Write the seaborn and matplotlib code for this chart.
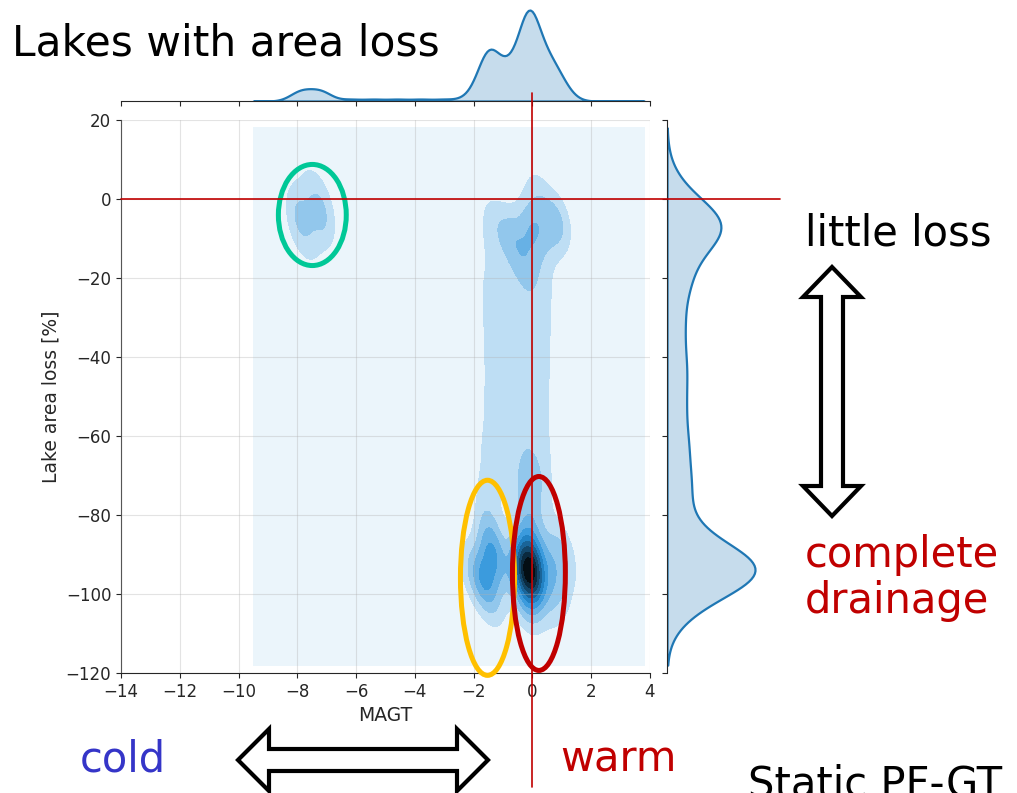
import colorsys
import numpy as np
import matplotlib
matplotlib.use("Agg")
import matplotlib.pyplot as plt
from matplotlib.patches import Ellipse, Polygon
from matplotlib.lines import Line2D
from matplotlib.transforms import blended_transform_factory
import seaborn as sns
from seaborn._statistics import KDE

# ---------------- data: representative lakes (MAGT [deg C], area loss [%], number of lakes)
magt = [
    # warm, complete drainage
    -0.12, -0.10, -0.15, -0.60, 0.40, 0.90, 0.85, 0.65, -0.05, 0.00, 1.25,
    # slightly colder, complete drainage
    -1.65, -1.35, -2.15, -1.25, -1.50,
    # warm, little loss
    0.00, -0.70, 0.70, 0.15, -0.20, -1.35, 1.00,
    # cold, little loss
    -7.95, -7.15, -7.95, -7.15, -7.55, -7.55,
    # sparse intermediate lakes
    -6.20, -5.40, -4.60, -3.80, -3.00,
    # warm, partial loss
    -1.50, -0.80, -0.15, 0.50,
    -1.55, -0.85, -0.20, 0.45,
    -1.50, -0.80, -0.15, 0.45,
    -1.45, -0.80, -0.20, 0.40,
    -1.50, -0.85, -0.25, 0.40,
    -1.60, -0.90, -0.25, 0.40,
    -1.65, -0.95, -0.30, 0.40,
]
area_loss = [
    -94.0, -85.0, -103.0, -96.0, -92.0, -88.0, -98.0, -105.0, -76.0, -68.0, -93.0,
    -97.0, -90.0, -93.0, -104.0, -82.0,
    -7.0, -9.0, -6.0, 2.0, -17.0, -5.0, -6.0,
    -2.0, -2.0, -6.5, -6.5, 4.5, -13.0,
    -45.0, -80.0, -20.0, -60.0, -100.0,
    -12.0, -12.0, -12.0, -12.0,
    -22.0, -22.0, -22.0, -22.0,
    -32.0, -32.0, -32.0, -32.0,
    -42.0, -42.0, -42.0, -42.0,
    -52.0, -52.0, -52.0, -52.0,
    -62.0, -62.0, -62.0, -62.0,
    -72.0, -72.0, -72.0, -72.0,
]
lake_count = [
    34, 8, 7, 5, 5, 6, 6, 3, 5, 3, 2.5,
    12.5, 12.5, 4, 3, 5,
    8, 6, 6.5, 4, 4, 4, 3.5,
    4.3, 4.3, 4.3, 4.3, 2.8, 2.5,
    2, 2, 2, 2, 2,
    2.4, 2.4, 2.4, 2.4,
    3.0, 3.0, 3.0, 3.0,
    3.0, 3.0, 3.0, 3.0,
    3.0, 3.0, 3.0, 3.0,
    3.0, 3.0, 3.0, 3.0,
    3.0, 3.0, 3.0, 3.0,
    3.0, 3.0, 3.0, 3.0,
]
x_ticks = [-14, -12, -10, -8, -6, -4, -2, 0, 2, 4]
y_ticks = [-120, -100, -80, -60, -40, -20, 0, 20]

# ---------------- settings
BW = 0.155
GRID_CLIP = ((-9.5, 3.8), (-118, 18))
W, H = 1017, 793
C0 = "#1f77b4"
RED = "#C00000"

sns.set_style("ticks")
plt.rcParams["font.family"] = ["DejaVu Sans"]

x = np.asarray(magt, float)
y = np.asarray(area_loss, float)
w = np.asarray(lake_count, float)

# colormap: white -> C0 hue -> black (lightness ramp)
h0, l0, s0 = colorsys.rgb_to_hls(*matplotlib.colors.to_rgb(C0))
ramp = [colorsys.hls_to_rgb(h0, l, s0) for l in np.linspace(1, 0, 12)]
cmap = sns.blend_palette(ramp, as_cmap=True)

# linearly spaced density levels, expressed as iso-proportions for seaborn
est = KDE(bw_method=BW, gridsize=200, cut=20, clip=GRID_CLIP)
dens, _ = est(x, y, weights=w)
lin = np.linspace(0, dens.max(), 11)[1:-1]
props = [float(dens[dens < L].sum() / dens.sum()) for L in lin]
levels = [0.0] + props + [1.0]

g = sns.JointGrid(height=7)
fig = g.figure
fig.set_size_inches(W / 100, H / 100)
fig.set_dpi(100)
ax, axx, axy = g.ax_joint, g.ax_marg_x, g.ax_marg_y


def rect(l, t, r, b):
    return [l / W, 1 - b / H, (r - l) / W, (b - t) / H]


ax.set_position(rect(121, 120, 650, 673))
axx.set_position(rect(121, 5, 650, 101))
axy.set_position(rect(667, 120, 775, 673))

sns.kdeplot(x=x, y=y, weights=w, ax=ax, fill=True, levels=levels, cmap=cmap,
            bw_method=BW, gridsize=200, cut=20, clip=GRID_CLIP)
sns.kdeplot(x=x, weights=w, ax=axx, fill=True, bw_method=BW, cut=20,
            clip=GRID_CLIP[0], color=C0, linewidth=1.6, alpha=0.25)
sns.kdeplot(y=y, weights=w, ax=axy, fill=True, bw_method=BW, cut=20,
            clip=GRID_CLIP[1], color=C0, linewidth=1.6, alpha=0.25)

ax.set_xlim(-14, 4)
ax.set_ylim(-120, 20)
ax.set_xticks(x_ticks)
ax.set_yticks(y_ticks)
ax.tick_params(labelsize=12)
ax.set_xlabel("MAGT", fontsize=13.5)
ax.set_ylabel("Lake area loss [%]", fontsize=13.5)
ax.grid(True, color="#b0b0b0", linewidth=0.8, alpha=0.35)
ax.set_axisbelow(False)

peak_x = max(p.vertices[:, 1].max() for p in axx.collections[0].get_paths())
axx.set_ylim(0, peak_x * 96 / 91)
peak_y = max(p.vertices[:, 0].max() for p in axy.collections[0].get_paths())
axy.set_xlim(0, peak_y * 108 / 88)
axx.set_xlabel("")
axx.set_ylabel("")
axy.set_xlabel("")
axy.set_ylabel("")

# ellipses marking clusters
for (cx, cy), ew, eh, ec in [((-7.49, -4.05), 2.31, 25.6, "#00C897"),
                             ((-1.53, -95.9), 1.84, 49.4, "#FFC000"),
                             ((0.22, -94.8), 1.80, 49.1, RED)]:
    ax.add_patch(Ellipse((cx, cy), ew, eh, fill=False, ec=ec, lw=3.6,
                         clip_on=False, zorder=6))

# red reference lines at MAGT = 0 and loss = 0
tv = blended_transform_factory(ax.transData, ax.transAxes)
fig.add_artist(Line2D([0, 0], [(673 - 93) / 553, (673 - 787) / 553],
                      transform=tv, color=RED, lw=1.2, zorder=10))
th = blended_transform_factory(ax.transAxes, ax.transData)
fig.add_artist(Line2D([0, (780 - 121) / 529], [0, 0], transform=th,
                      color=RED, lw=1.2, zorder=10))


# block double arrows (figure pixel coordinates)
def fpx(pts):
    return [(px / W, 1 - py / H) for px, py in pts]


def arrow_h(x0, x1, yc, hl, hh, sh):
    return [(x0, yc), (x0 + hl, yc - hh), (x0 + hl, yc - sh), (x1 - hl, yc - sh),
            (x1 - hl, yc - hh), (x1, yc), (x1 - hl, yc + hh), (x1 - hl, yc + sh),
            (x0 + hl, yc + sh), (x0 + hl, yc + hh)]


def arrow_v(xc, y0, y1, hl, hh, sh):
    return [(x, yy) for yy, x in arrow_h(y0, y1, xc, hl, hh, sh)]


for pts in [arrow_h(238, 488, 760, 31, 31, 11), arrow_v(832, 267, 516, 30, 29, 11)]:
    fig.add_artist(Polygon(fpx(pts), closed=True, transform=fig.transFigure,
                           facecolor="white", edgecolor="black", lw=3.0,
                           joinstyle="miter", zorder=12))

# annotation texts
for tx, ty, s, col in [(12, 55, "Lakes with area loss", "black"),
                       (805, 245, "little loss", "black"),
                       (805, 567, "complete", RED),
                       (805, 613, "drainage", RED),
                       (80, 772, "cold", "#3535C8"),
                       (560, 772, "warm", RED),
                       (748, 796, "Static PF-GT", "black")]:
    fig.text(tx / W, 1 - ty / H, s, fontsize=30.5 if ty == 55 else 30, color=col,
             ha="left", va="baseline", zorder=13)

fig.savefig("out.png", dpi=100)
